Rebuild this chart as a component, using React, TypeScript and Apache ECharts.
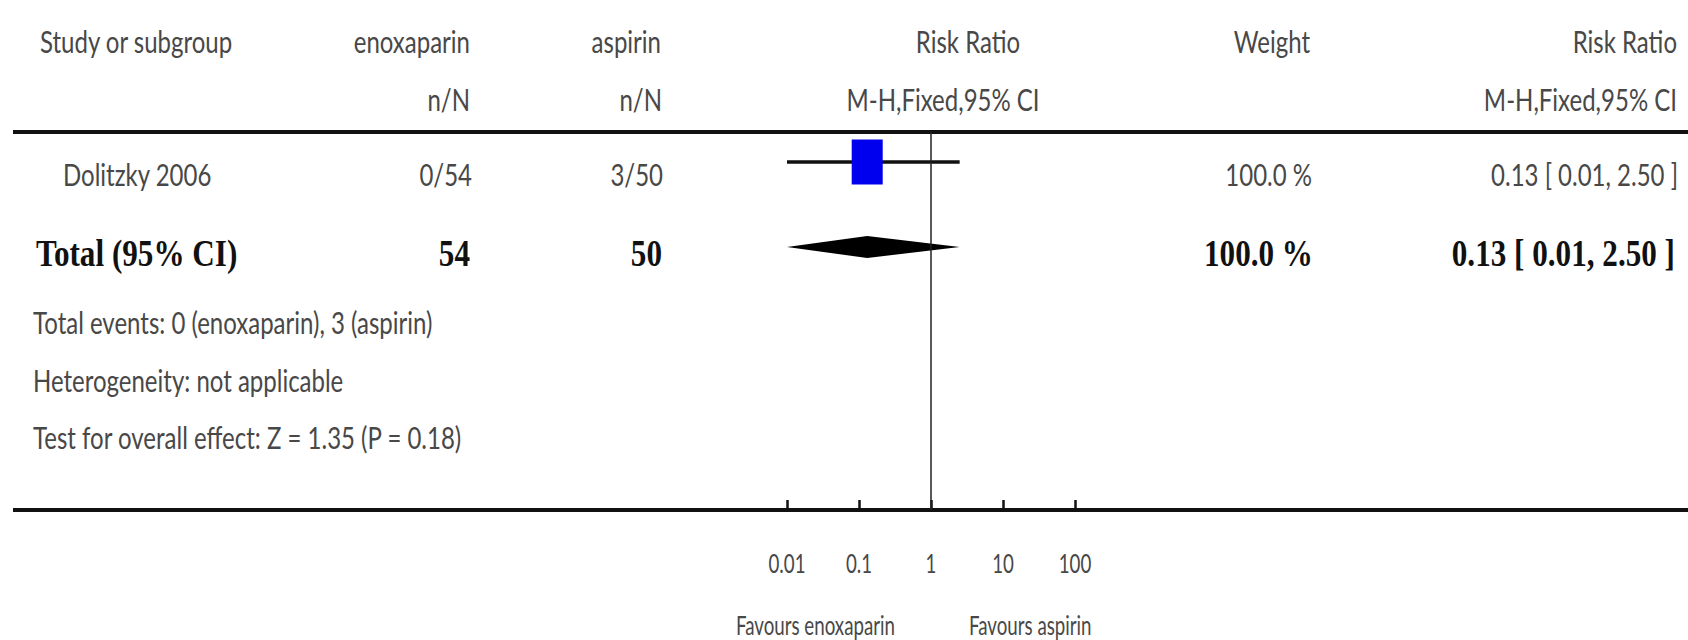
import React, { useEffect, useRef } from "react";
import * as echarts from "echarts";

// ---------- data ----------
const headerTop = ["Study or subgroup", "enoxaparin", "aspirin", "Risk Ratio", "Weight", "Risk Ratio"];
const headerSub = ["", "n/N", "n/N", "M-H,Fixed,95% CI", "", "M-H,Fixed,95% CI"];
const studies = ["Dolitzky 2006"];
const enoxEvents = [0];
const enoxTotal = [54];
const aspEvents = [3];
const aspTotal = [50];
const studyRR = [0.13];
const studyLow = [0.01];
const studyHigh = [2.5];
const studyWeight = [100.0];
const totalLabel = "Total (95% CI)";
const totalEnox = 54;
const totalAsp = 50;
const totalRR = 0.13;
const totalLow = 0.01;
const totalHigh = 2.5;
const totalWeight = 100.0;
const footnotes = [
  "Total events: 0 (enoxaparin), 3 (aspirin)",
  "Heterogeneity: not applicable",
  "Test for overall effect: Z = 1.35 (P = 0.18)",
];
const axisTicks = [0.01, 0.1, 1, 10, 100];
const favourLeft = "Favours enoxaparin";
const favourRight = "Favours aspirin";

// ---------- layout ----------
const W = 1688;
const H = 640;
const RULE_TOP = 132;
const AXIS_Y = 510;
const STUDY_Y = 30; // offset inside grid (px units of y axis)
const TOTAL_Y = 115;
const REG_FONT = "Lato, 'Open Sans', sans-serif";
const REG_SIZE = 30;
const REG_SX = 0.8;
const SMALL_SIZE = 26;
const SMALL_SX = 0.72;
const REG_FILL = "#484848";
const BOLD_FONT = "'Liberation Serif', 'Times New Roman', serif";
const BOLD_SIZE = 38;
const BOLD_SX = 0.82;
const BOLD_FILL = "#111";

const fmtCI = (rr: number, lo: number, hi: number) =>
  `${rr.toFixed(2)} [ ${lo.toFixed(2)}, ${hi.toFixed(2)} ]`;

function regText(text: string, x: number, y: number, align: string, size = REG_SIZE, sx = REG_SX) {
  return {
    type: "text",
    x,
    y,
    scaleX: sx,
    silent: true,
    style: {
      text,
      fill: REG_FILL,
      fontFamily: REG_FONT,
      fontSize: size,
      textAlign: align,
      textVerticalAlign: "middle",
    },
  };
}

function boldText(text: string, x: number, y: number, align: string) {
  return {
    type: "text",
    x,
    y,
    scaleX: BOLD_SX,
    silent: true,
    style: {
      text,
      fill: BOLD_FILL,
      fontFamily: BOLD_FONT,
      fontSize: BOLD_SIZE,
      fontWeight: "bold",
      textAlign: align,
      textVerticalAlign: "middle",
    },
  };
}

export default function App() {
  const ref = useRef<HTMLDivElement>(null);

  useEffect(() => {
    document.body.style.margin = "0";
    if (!ref.current) return;
    const chart = echarts.init(ref.current, undefined, { renderer: "svg" });

    const studySquares = studies.map((_, i) => [studyRR[i], STUDY_Y]);
    const ciLines = studies.map((_, i) => [
      [studyLow[i], STUDY_Y],
      [studyHigh[i], STUDY_Y],
    ]);

    chart.setOption({
      animation: false,
      backgroundColor: "#fff",
      grid: {
        left: 787,
        width: 288,
        top: RULE_TOP,
        bottom: H - AXIS_Y,
        containLabel: false,
      },
      xAxis: {
        type: "log",
        logBase: 10,
        min: 0.01,
        max: 100,
        position: "bottom",
        axisLine: { show: false, onZero: false },
        axisTick: { show: true, inside: true, length: 10, lineStyle: { color: "#111", width: 2.5 } },
        axisLabel: { show: false },
        splitLine: { show: false },
      },
      yAxis: {
        type: "value",
        min: 0,
        max: AXIS_Y - RULE_TOP,
        inverse: true,
        show: false,
      },
      series: [
        ...ciLines.map((d) => ({
          type: "line",
          data: d,
          symbol: "none",
          lineStyle: { color: "#111", width: 3.5 },
          z: 2,
          silent: true,
        })),
        {
          type: "line",
          data: [],
          markLine: {
            silent: true,
            symbol: "none",
            label: { show: false },
            lineStyle: { color: "#222", width: 1.5, type: "solid" },
            data: [{ xAxis: 1 }],
          },
          z: 1,
        },
        {
          type: "scatter",
          data: studySquares,
          symbol: "rect",
          symbolSize: [31, 45],
          itemStyle: { color: "#0000ee", opacity: 1 },
          z: 3,
          silent: true,
        },
        {
          type: "custom",
          data: [[totalLow, totalHigh, totalRR, TOTAL_Y]],
          encode: { x: [0, 1, 2], y: 3 },
          z: 3,
          silent: true,
          renderItem: (_params: any, api: any) => {
            const lo = api.coord([api.value(0), api.value(3)]);
            const hi = api.coord([api.value(1), api.value(3)]);
            const mid = api.coord([api.value(2), api.value(3)]);
            const h = 11;
            return {
              type: "polygon",
              shape: {
                points: [
                  [lo[0], mid[1]],
                  [mid[0], mid[1] - h],
                  [hi[0], mid[1]],
                  [mid[0], mid[1] + h],
                ],
              },
              style: { fill: "#000" },
            };
          },
        },
      ],
    });

    const px = (v: number) => (chart.convertToPixel({ xAxisIndex: 0, yAxisIndex: 0 }, [v, 0]) as number[])[0];
    const onePx = px(1);

    const graphics: any[] = [
      { type: "line", silent: true, shape: { x1: 13, y1: RULE_TOP, x2: W, y2: RULE_TOP }, style: { stroke: "#111", lineWidth: 4 } },
      { type: "line", silent: true, shape: { x1: 13, y1: AXIS_Y, x2: W, y2: AXIS_Y }, style: { stroke: "#111", lineWidth: 4 } },
      // header row 1
      regText(headerTop[0], 40, 41, "left"),
      regText(headerTop[1], 470, 41, "right"),
      regText(headerTop[2], 661, 41, "right"),
      regText(headerTop[3], 968, 41, "center"),
      regText(headerTop[4], 1310, 41, "right"),
      regText(headerTop[5], 1677, 41, "right"),
      // header row 2
      regText(headerSub[1], 470, 99, "right"),
      regText(headerSub[2], 662, 99, "right"),
      regText(headerSub[3], 943, 99, "center"),
      regText(headerSub[5], 1677, 99, "right"),
    ];

    studies.forEach((s, i) => {
      const y = 174;
      graphics.push(
        regText(s, 63, y, "left"),
        regText(`${enoxEvents[i]}/${enoxTotal[i]}`, 472, y, "right"),
        regText(`${aspEvents[i]}/${aspTotal[i]}`, 663, y, "right"),
        regText(`${studyWeight[i].toFixed(1)} %`, 1312, y, "right"),
        regText(fmtCI(studyRR[i], studyLow[i], studyHigh[i]), 1678, y, "right")
      );
    });

    graphics.push(
      boldText(totalLabel, 36, 253, "left"),
      boldText(String(totalEnox), 470, 253, "right"),
      boldText(String(totalAsp), 662, 253, "right"),
      boldText(`${totalWeight.toFixed(1)} %`, 1313, 253, "right"),
      boldText(fmtCI(totalRR, totalLow, totalHigh), 1675, 253, "right")
    );

    const fnY = [322, 380, 437];
    footnotes.forEach((f, i) => graphics.push(regText(f, 33, fnY[i], "left")));

    axisTicks.forEach((t) => graphics.push(regText(String(t), px(t), 563, "center", SMALL_SIZE, SMALL_SX)));

    graphics.push(
      regText(favourLeft, onePx - 36, 625, "right", SMALL_SIZE, SMALL_SX),
      regText(favourRight, onePx + 38, 625, "left", SMALL_SIZE, SMALL_SX)
    );

    chart.setOption({ graphic: graphics });

    return () => chart.dispose();
  }, []);

  return <div ref={ref} style={{ width: W, height: H }} />;
}
